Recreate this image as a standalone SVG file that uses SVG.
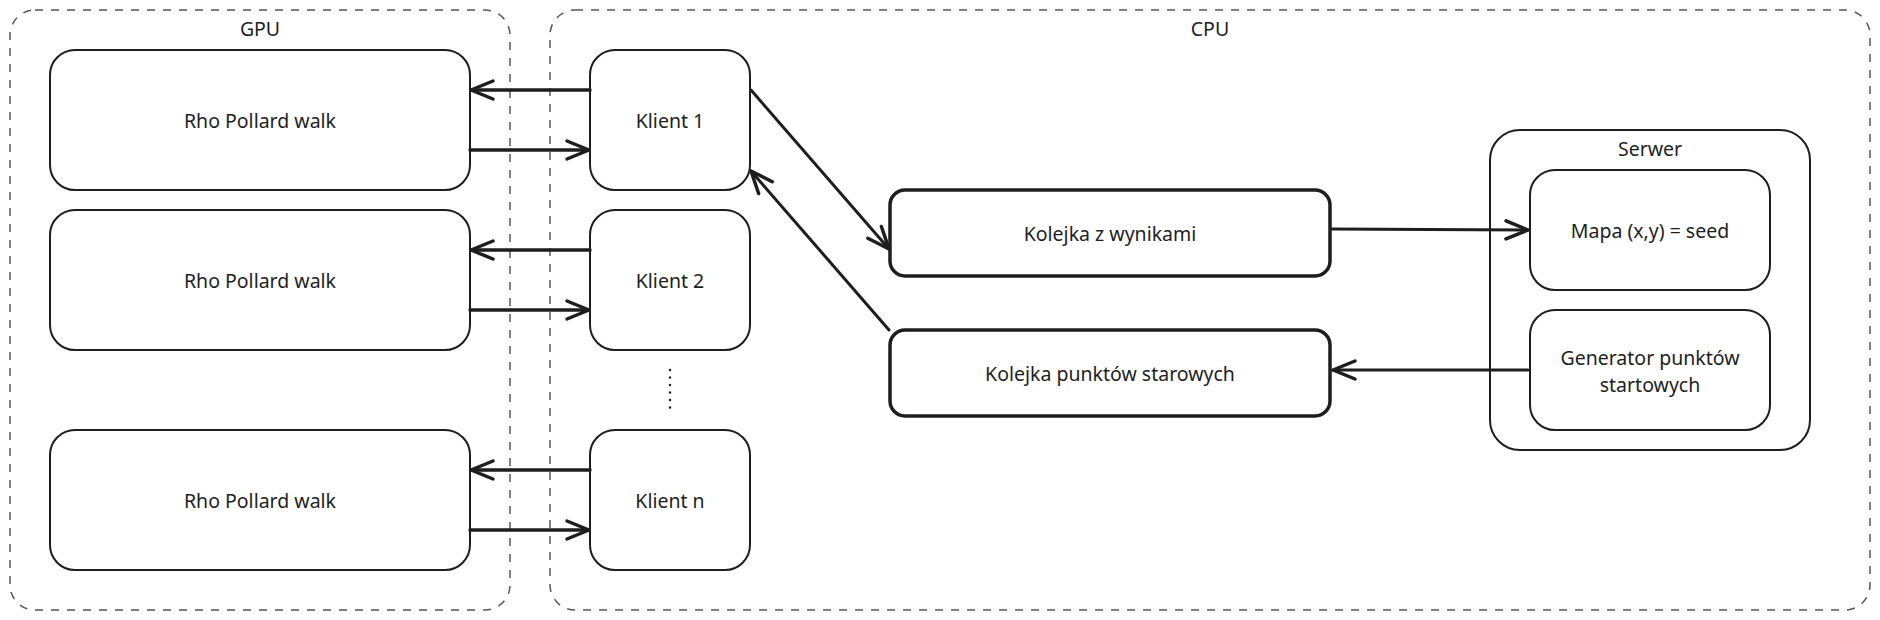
<svg xmlns="http://www.w3.org/2000/svg" width="1880" height="620" viewBox="0 0 1880 620">
<style>
  .container { fill: none; stroke: #555; stroke-width: 1.5; stroke-dasharray: 8 8; }
  .node { fill: #fff; stroke: #1e1e1e; stroke-width: 2; }
  .queue { fill: #fff; stroke: #1e1e1e; stroke-width: 3.5; }
  .lbl { font-family: "Noto Sans", Lato, "Liberation Sans", sans-serif; font-size: 19.5px; fill: #1e1e1e; text-anchor: middle; dominant-baseline: central; }
  .conn { fill: none; stroke: #1e1e1e; stroke-width: 3.5; stroke-linecap: round; }
  .conn-thin { fill: none; stroke: #1e1e1e; stroke-width: 3; stroke-linecap: round; }
</style>
<defs>
  <marker id="ah" markerUnits="userSpaceOnUse" markerWidth="40" markerHeight="40" viewBox="-30 -20 40 40" refX="0" refY="0" orient="auto">
    <path d="M -22 -9 L 0 0 L -22 9" fill="none" stroke="#1e1e1e" stroke-width="3.5" stroke-linecap="round" stroke-linejoin="round"/>
  </marker>
</defs>
<rect width="1880" height="620" fill="#fff"/>

<g id="gpu">
  <rect class="container" x="10" y="10" width="500" height="600" rx="25"/>
  <text class="lbl" x="260" y="28">GPU</text>
</g>
<g id="cpu">
  <rect class="container" x="550" y="10" width="1320" height="600" rx="25"/>
  <text class="lbl" x="1210" y="28">CPU</text>
</g>

<g id="rho1">
  <rect class="node" x="50" y="50" width="420" height="140" rx="25"/>
  <text class="lbl" x="260" y="120">Rho Pollard walk</text>
</g>
<g id="rho2">
  <rect class="node" x="50" y="210" width="420" height="140" rx="25"/>
  <text class="lbl" x="260" y="280">Rho Pollard walk</text>
</g>
<g id="rho3">
  <rect class="node" x="50" y="430" width="420" height="140" rx="25"/>
  <text class="lbl" x="260" y="500">Rho Pollard walk</text>
</g>

<g id="klient1">
  <rect class="node" x="590" y="50" width="160" height="140" rx="25"/>
  <text class="lbl" x="670" y="120">Klient 1</text>
</g>
<g id="klient2">
  <rect class="node" x="590" y="210" width="160" height="140" rx="25"/>
  <text class="lbl" x="670" y="280">Klient 2</text>
</g>
<g id="dots">
  <line x1="670" y1="370" x2="670" y2="408" stroke="#1e1e1e" stroke-width="2.5" stroke-linecap="round" stroke-dasharray="0 7.5"/>
</g>
<g id="klientn">
  <rect class="node" x="590" y="430" width="160" height="140" rx="25"/>
  <text class="lbl" x="670" y="500">Klient n</text>
</g>

<g id="kolejka-wyniki">
  <rect class="queue" x="890" y="190" width="440" height="86" rx="15"/>
  <text class="lbl" x="1110" y="233">Kolejka z wynikami</text>
</g>
<g id="kolejka-punkty">
  <rect class="queue" x="890" y="330" width="440" height="86" rx="15"/>
  <text class="lbl" x="1110" y="373">Kolejka punktów starowych</text>
</g>

<g id="serwer">
  <rect class="node" x="1490" y="130" width="320" height="320" rx="30"/>
  <text class="lbl" x="1650" y="148">Serwer</text>
</g>
<g id="mapa">
  <rect class="node" x="1530" y="170" width="240" height="120" rx="25"/>
  <text class="lbl" x="1650" y="230">Mapa (x,y) = seed</text>
</g>
<g id="generator">
  <rect class="node" x="1530" y="310" width="240" height="120" rx="25"/>
  <text class="lbl" x="1650" y="357">Generator punktów</text>
  <text class="lbl" x="1650" y="384">startowych</text>
</g>

<g id="connectors">
  <line class="conn" x1="590" y1="90" x2="471" y2="90" marker-end="url(#ah)"/>
  <line class="conn" x1="470" y1="150" x2="589" y2="150" marker-end="url(#ah)"/>
  <line class="conn" x1="590" y1="250" x2="471" y2="250" marker-end="url(#ah)"/>
  <line class="conn" x1="470" y1="310" x2="589" y2="310" marker-end="url(#ah)"/>
  <line class="conn" x1="590" y1="470" x2="471" y2="470" marker-end="url(#ah)"/>
  <line class="conn" x1="470" y1="530" x2="589" y2="530" marker-end="url(#ah)"/>
  <line class="conn-thin" x1="751" y1="90" x2="889" y2="249" marker-end="url(#ah)"/>
  <line class="conn-thin" x1="889" y1="330" x2="751" y2="171" marker-end="url(#ah)"/>
  <line class="conn-thin" x1="1332" y1="229" x2="1528" y2="230" marker-end="url(#ah)"/>
  <line class="conn-thin" x1="1528" y1="370" x2="1333" y2="370" marker-end="url(#ah)"/>
</g>
</svg>
